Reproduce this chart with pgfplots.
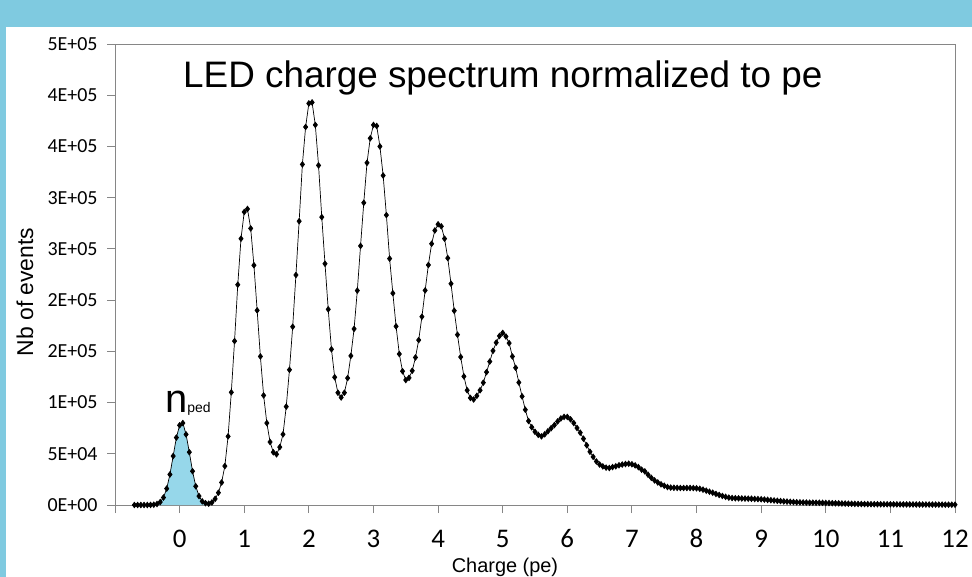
\documentclass[border=0pt]{standalone}
\usepackage{fontspec}
\setmainfont{Liberation Sans}
\newfontfamily\calibri{Carlito}
\usepackage{pgfplots}
\pgfplotsset{compat=1.18}
\usepackage{pgfplotstable}
\definecolor{band}{RGB}{127,202,224}
\definecolor{pedfill}{RGB}{150,215,234}
\definecolor{framegray}{RGB}{134,134,134}
\pgfplotstableread{
x y
-0.70 0
-0.65 0
-0.60 0
-0.55 0
-0.50 0
-0.45 100
-0.40 300
-0.35 1000
-0.30 2900
-0.25 7300
-0.20 16000
-0.15 29800
-0.10 47800
-0.05 65800
0.00 77800
0.05 80000
0.10 68900
0.15 51600
0.20 33000
0.25 18300
0.30 8700
0.35 3600
0.40 1800
0.45 1300
0.50 2500
0.55 6000
0.60 12000
0.65 22000
0.70 38000
0.75 67000
0.80 110000
0.85 160000
0.90 215000
0.95 260000
1.00 286000
1.05 289000
1.10 270000
1.15 234000
1.20 190000
1.25 145000
1.30 107000
1.35 80000
1.40 61500
1.45 51500
1.50 49500
1.55 56500
1.60 69000
1.65 96000
1.70 132000
1.75 174000
1.80 224500
1.85 277000
1.90 332500
1.95 369000
2.00 392000
2.05 393000
2.10 371000
2.15 331500
2.20 281000
2.25 235500
2.30 191000
2.35 152000
2.40 124700
2.45 109600
2.50 105000
2.55 109600
2.60 123900
2.65 145600
2.70 171900
2.75 209300
2.80 252900
2.85 295000
2.90 334000
2.95 358000
3.00 371000
3.05 370000
3.10 350000
3.15 321600
3.20 283000
3.25 240500
3.30 206700
3.35 174400
3.40 147400
3.45 130600
3.50 122000
3.55 124100
3.60 131000
3.65 144000
3.70 161000
3.75 183800
3.80 209500
3.85 234300
3.90 255000
3.95 268000
4.00 274000
4.05 272000
4.10 260000
4.15 241000
4.20 216000
4.25 189600
4.30 166200
4.35 144500
4.40 125500
4.45 112000
4.50 104500
4.55 103000
4.60 106600
4.65 112000
4.70 119400
4.75 129700
4.80 140000
4.85 150500
4.90 158500
4.95 165000
5.00 168000
5.05 164500
5.10 158000
5.15 145000
5.20 134000
5.25 119600
5.30 106000
5.35 93000
5.40 82000
5.45 75900
5.50 71400
5.55 68500
5.60 67000
5.65 69000
5.70 72000
5.75 75000
5.80 78000
5.85 81600
5.90 84500
5.95 86000
6.00 86000
6.05 83600
6.10 80000
6.15 75200
6.20 70600
6.25 64700
6.30 58300
6.35 52000
6.40 47000
6.45 42500
6.50 39500
6.55 37700
6.60 36500
6.65 36100
6.70 37000
6.75 37800
6.80 38800
6.85 39500
6.90 40000
6.95 40300
7.00 39800
7.05 38700
7.10 37000
7.15 34500
7.20 32800
7.25 29500
7.30 26500
7.35 24000
7.40 22000
7.45 20200
7.50 18800
7.55 17500
7.60 17000
7.65 16800
7.70 16700
7.75 16600
7.80 16600
7.85 16600
7.90 16600
7.95 16500
8.00 16300
8.05 15800
8.10 15000
8.15 14000
8.20 13000
8.25 12000
8.30 10800
8.35 9800
8.40 8800
8.45 8000
8.50 7200
8.55 6800
8.60 6600
8.65 6500
8.70 6400
8.75 6300
8.80 6200
8.85 6100
8.90 5900
8.95 5800
9.00 5600
9.05 5300
9.10 5000
9.15 4700
9.20 4400
9.25 4100
9.30 3800
9.35 3500
9.40 3300
9.45 3100
9.50 2900
9.55 2700
9.60 2600
9.65 2500
9.70 2400
9.75 2300
9.80 2300
9.85 2200
9.90 2200
9.95 2100
10.00 2000
10.05 1900
10.10 1800
10.15 1700
10.20 1600
10.25 1500
10.30 1400
10.35 1300
10.40 1200
10.45 1100
10.50 1000
10.55 950
10.60 900
10.65 850
10.70 800
10.75 780
10.80 760
10.85 740
10.90 720
10.95 700
11.00 680
11.05 660
11.10 640
11.15 620
11.20 600
11.25 580
11.30 560
11.35 540
11.40 520
11.45 500
11.50 480
11.55 460
11.60 440
11.65 420
11.70 400
11.75 380
11.80 360
11.85 340
11.90 320
11.95 300
12.00 280
}\spec

\begin{document}
\begin{tikzpicture}
\useasboundingbox (0,0) rectangle (972bp,577bp);
\fill[white] (0,0) rectangle (972bp,577bp);
\fill[band] (0,550bp) rectangle (972bp,577bp);
\fill[band] (0,0) rectangle (6bp,550bp);
\begin{axis}[
  at={(115bp,72bp)}, anchor=south west,
  scale only axis, width=840bp, height=461bp,
  xmin=-1, xmax=12, ymin=0, ymax=450000,
  axis line style={framegray, line width=0.9bp},
  xtick={-1,0,...,12},
  xticklabels={,0,1,2,3,4,5,6,7,8,9,10,11,12},
  ytick={0,50000,...,450000},
  yticklabels={0E+00,5E+04,1E+05,2E+05,2E+05,3E+05,3E+05,4E+05,4E+05,5E+05},
  scaled ticks=false,
  tick align=outside, tick pos=left,
  major tick length=8bp,
  tick style={framegray, line width=0.9bp},
  xticklabel style={font=\calibri\fontsize{27}{29}\selectfont, text height=17bp, text depth=0pt, yshift=-14bp},
  yticklabel style={font=\calibri\fontsize{20}{22}\selectfont, xshift=-6bp},
  clip=false,
]
\addplot[draw=none, fill=pedfill, restrict x to domain=-0.36:0.42] table[x=x,y=y]{\spec} \closedcycle;
\addplot[black, line width=0.7bp, mark=diamond*, mark size=2.8bp, mark options={solid, fill=black}] table[x=x,y=y]{\spec};
\end{axis}
\node[anchor=base west, inner sep=0, font=\fontsize{37}{37}\selectfont] at (183bp,489bp) {LED charge spectrum normalized to pe};
\node[anchor=base west, inner sep=0] at (165bp,164bp) {\fontsize{40}{40}\selectfont n\fontsize{14}{14}\selectfont ped};
\node[anchor=base, inner sep=0, font=\fontsize{20}{22}\selectfont] at (505bp,5bp) {Charge (pe)};
\node[anchor=base, inner sep=0, rotate=90, font=\fontsize{23}{25}\selectfont] at (33bp,285bp) {Nb of events};
\end{tikzpicture}
\end{document}
